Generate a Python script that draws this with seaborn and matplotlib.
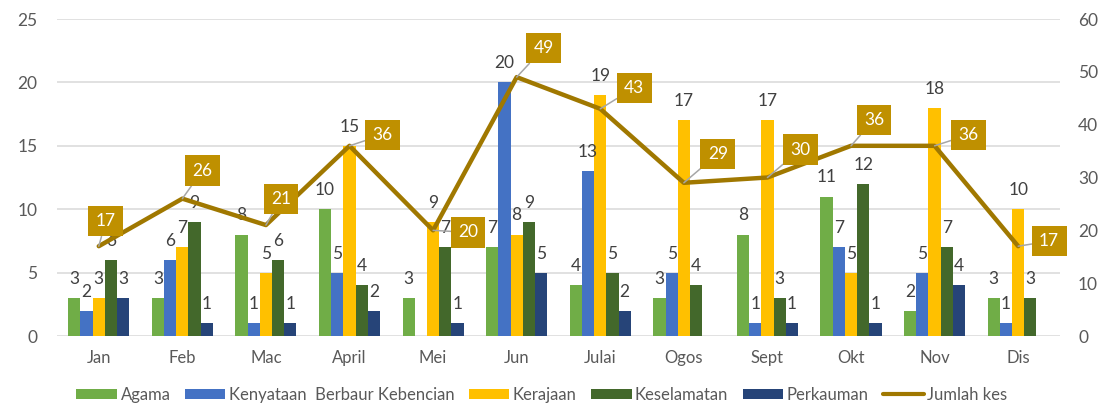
import numpy as np
import pandas as pd
import matplotlib
matplotlib.use("Agg")
import matplotlib.pyplot as plt
from matplotlib.patches import Patch
from matplotlib.lines import Line2D
import seaborn as sns

# Monthly case counts per category
bulan = ["Jan", "Feb", "Mac", "April", "Mei", "Jun", "Julai", "Ogos", "Sept", "Okt", "Nov", "Dis"]
agama = [3, 3, 8, 10, 3, 7, 4, 3, 8, 11, 2, 3]
kenyataan = [2, 6, 1, 5, 0, 20, 13, 5, 1, 7, 5, 1]
kerajaan = [3, 7, 5, 15, 9, 8, 19, 17, 17, 5, 18, 10]
keselamatan = [6, 9, 6, 4, 7, 9, 5, 4, 3, 12, 7, 3]
perkauman = [3, 1, 1, 2, 1, 5, 2, 0, 1, 1, 4, 0]
jumlah_kes = [17, 26, 21, 36, 20, 49, 43, 29, 30, 36, 36, 17]

kategori = ["Agama", "Kenyataan  Berbaur Kebencian", "Kerajaan", "Keselamatan", "Perkauman"]
warna = ["#70AD47", "#4472C4", "#FFC000", "#43682B", "#264478"]
warna_garis = "#A07800"
warna_kotak = "#BF9000"
teks_kelabu = "#595959"

# Offsets (pixels) of the total-count callouts from their line points
callout_offset = [(7, 25), (20, 28), (15, 26), (33, 11), (35, -2), (27, 29),
                  (34, 21), (34, 29), (33, 28), (23, 26), (34, 11), (31, 5)]

sns.set_theme(style="white")
plt.rcParams["font.family"] = ["Lato", "DejaVu Sans"]

siri = [agama, kenyataan, kerajaan, keselamatan, perkauman]
df = pd.DataFrame({
    "Bulan": np.tile(bulan, len(kategori)),
    "Kategori": np.repeat(kategori, len(bulan)),
    "Kes": np.concatenate(siri),
})

fig = plt.figure(figsize=(11, 4.07), dpi=100)
ax = fig.add_axes([0.0518, 0.1744, 0.9118, 0.7789])

sns.barplot(data=df, x="Bulan", y="Kes", hue="Kategori", order=bulan,
            hue_order=kategori, palette=warna, saturation=1, width=0.73,
            linewidth=0, legend=False, ax=ax)

for cont in ax.containers:
    labels = [f"{int(v)}" if v > 0 else "" for v in cont.datavalues]
    ax.bar_label(cont, labels=labels, padding=8, fontsize=12.5, color="#404040")

ax.set_ylim(0, 25)
ax.set_xlim(-0.5, len(bulan) - 0.5)
ax.set_yticks(range(0, 26, 5))
ax.set_xlabel("")
ax.set_ylabel("")
ax.yaxis.grid(True, color="#D9D9D9", lw=1.1)
ax.set_axisbelow(True)
ax.tick_params(axis="y", length=0, labelsize=12.5, labelcolor=teks_kelabu, pad=14)
ax.tick_params(axis="x", length=0, labelsize=12, labelcolor=teks_kelabu, pad=10)
for s in ax.spines.values():
    s.set_visible(False)

ax2 = ax.twinx()
pos = np.arange(len(bulan))
sns.lineplot(x=pos, y=jumlah_kes, ax=ax2, color=warna_garis, lw=3.2)
ax2.set_ylim(0, 60)
ax2.set_yticks(range(0, 61, 10))
ax2.set_ylabel("")
ax2.grid(False)
ax2.tick_params(axis="y", length=0, labelsize=12.5, labelcolor=teks_kelabu, pad=13)
for s in ax2.spines.values():
    s.set_visible(False)

for i, (v, off) in enumerate(zip(jumlah_kes, callout_offset)):
    ax2.annotate(str(v), xy=(i, v), xytext=off, textcoords="offset pixels",
                 ha="center", va="center", fontsize=12.5, color="white",
                 bbox=dict(boxstyle="square,pad=0.42", fc=warna_kotak, ec="none"),
                 arrowprops=dict(arrowstyle="-", color="#A6A6A6", lw=1.1,
                                 shrinkA=0, shrinkB=0))

handles = [Patch(facecolor=c, edgecolor="none") for c in warna]
handles.append(Line2D([], [], color=warna_garis, lw=3))
fig.legend(handles, kategori + ["Jumlah kes"], loc="center",
           bbox_to_anchor=(0.4925, 0.03), ncol=6, frameon=False, fontsize=12,
           labelcolor=teks_kelabu, handlelength=2.45, handleheight=0.6,
           handletextpad=0.2, columnspacing=0.85)

fig.savefig("out.png", dpi=100)
